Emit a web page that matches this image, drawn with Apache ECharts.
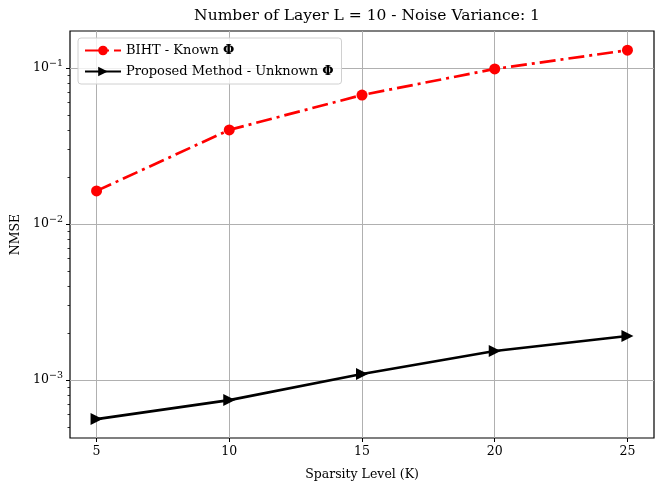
<!DOCTYPE html>
<html><head><meta charset="utf-8">
<script src="https://cdn.jsdelivr.net/npm/echarts@6/dist/echarts.min.js"></script>
<style>html,body{margin:0;padding:0;background:#fff}#c{width:664px;height:493px}</style>
</head><body><div id="c"></div>
<script>
const sparsity = [5, 10, 15, 20, 25];
const bihtKnown = [0.0163, 0.0401, 0.0671, 0.0986, 0.130];
const proposedUnknown = [0.000562, 0.000744, 0.001093, 0.001535, 0.001915];
const xTicks = [5, 10, 15, 20, 25];
const yMajorTicks = [0.001, 0.01, 0.1];
const yMinorTicks = [0.0005, 0.0006, 0.0007, 0.0008, 0.0009,
  0.002, 0.003, 0.004, 0.005, 0.006, 0.007, 0.008, 0.009,
  0.02, 0.03, 0.04, 0.05, 0.06, 0.07, 0.08, 0.09];

const FONT = '"DejaVu Serif", "Liberation Serif", serif';
const supMap = {'-1': '−1', '-2': '−2', '-3': '−3'};
const chart = echarts.init(document.getElementById('c'));
const yMin = 4.25e-4, yMax = 0.1726;
chart.setOption({
  animation: false,
  backgroundColor: '#fff',
  title: {
    text: 'Number of Layer L = 10 - Noise Variance: 1',
    left: 362, top: 3, textAlign: 'center',
    textStyle: {fontFamily: FONT, fontSize: 15.5, fontWeight: 'normal', color: '#000'}
  },
  grid: {left: 70, right: 10, top: 31, bottom: 55, show: true, borderColor: '#000', borderWidth: 1.2, backgroundColor: 'transparent'},
  legend: {
    left: 78, top: 38, orient: 'vertical', itemWidth: 36, itemHeight: 12, itemGap: 8,
    padding: [6, 8, 6, 6],
    backgroundColor: 'rgba(255,255,255,0.8)', borderColor: '#d0d0d0', borderWidth: 1, borderRadius: 3,
    textStyle: {fontFamily: FONT, fontSize: 13, color: '#000',
      rich: {n: {fontFamily: FONT, fontSize: 13, color: '#000'}, b: {fontFamily: FONT, fontSize: 13, fontWeight: 'bold', color: '#000'}}},
    formatter: function (name) {
      return '{n|' + name.replace(' Φ', ' ') + '}{b|Φ}';
    },
    data: ['BIHT - Known Φ', 'Proposed Method - Unknown Φ']
  },
  xAxis: {
    type: 'value', min: 4, max: 26,
    name: 'Sparsity Level (K)', nameLocation: 'middle', nameGap: 30,
    nameTextStyle: {fontFamily: FONT, fontSize: 12.5, color: '#000'},
    axisLine: {show: false},
    axisTick: {show: true, length: 4, inside: false, customValues: xTicks, lineStyle: {color: '#000', width: 1}},
    axisLabel: {customValues: xTicks, fontFamily: FONT, fontSize: 12.5, color: '#000', margin: 7},
    splitLine: {show: true, lineStyle: {color: '#b0b0b0', width: 1}}
  },
  yAxis: [{
    type: 'log', logBase: 10, min: yMin, max: yMax,
    name: 'NMSE', nameLocation: 'middle', nameGap: 46,
    nameTextStyle: {fontFamily: FONT, fontSize: 12.5, color: '#000'},
    axisLine: {show: false},
    axisTick: {show: true, length: 4, customValues: yMajorTicks, lineStyle: {color: '#000', width: 1}},
    axisLabel: {
      customValues: yMajorTicks, margin: 7, fontFamily: FONT, fontSize: 12.5, color: '#000',
      formatter: function (v) {
        const e = Math.round(Math.log10(v));
        return '10{s|' + (supMap[String(e)] || String(e)) + '}';
      },
      rich: {s: {fontFamily: FONT, fontSize: 9.5, color: '#000', verticalAlign: 'bottom', padding: [0, 0, 8, 0]}}
    },
    splitLine: {show: true, lineStyle: {color: '#b0b0b0', width: 1}}
  }, {
    type: 'log', logBase: 10, min: yMin, max: yMax, position: 'left', offset: 0,
    axisLine: {show: false},
    axisTick: {show: true, length: 2.5, customValues: yMinorTicks, lineStyle: {color: '#000', width: 0.8}},
    axisLabel: {show: false},
    splitLine: {show: false}
  }],
  series: [{
    name: 'BIHT - Known Φ', type: 'line', yAxisIndex: 0,
    data: sparsity.map((x, i) => [x, bihtKnown[i]]),
    symbol: 'circle', symbolSize: 11,
    itemStyle: {color: '#ff0000'},
    lineStyle: {color: '#ff0000', width: 2.7, type: [16, 5, 3, 5]}
  }, {
    name: 'Proposed Method - Unknown Φ', type: 'line', yAxisIndex: 0,
    data: sparsity.map((x, i) => [x, proposedUnknown[i]]),
    symbol: 'triangle', symbolSize: 12, symbolRotate: -90,
    itemStyle: {color: '#000'},
    lineStyle: {color: '#000', width: 2.7}
  }]
});
</script></body></html>
